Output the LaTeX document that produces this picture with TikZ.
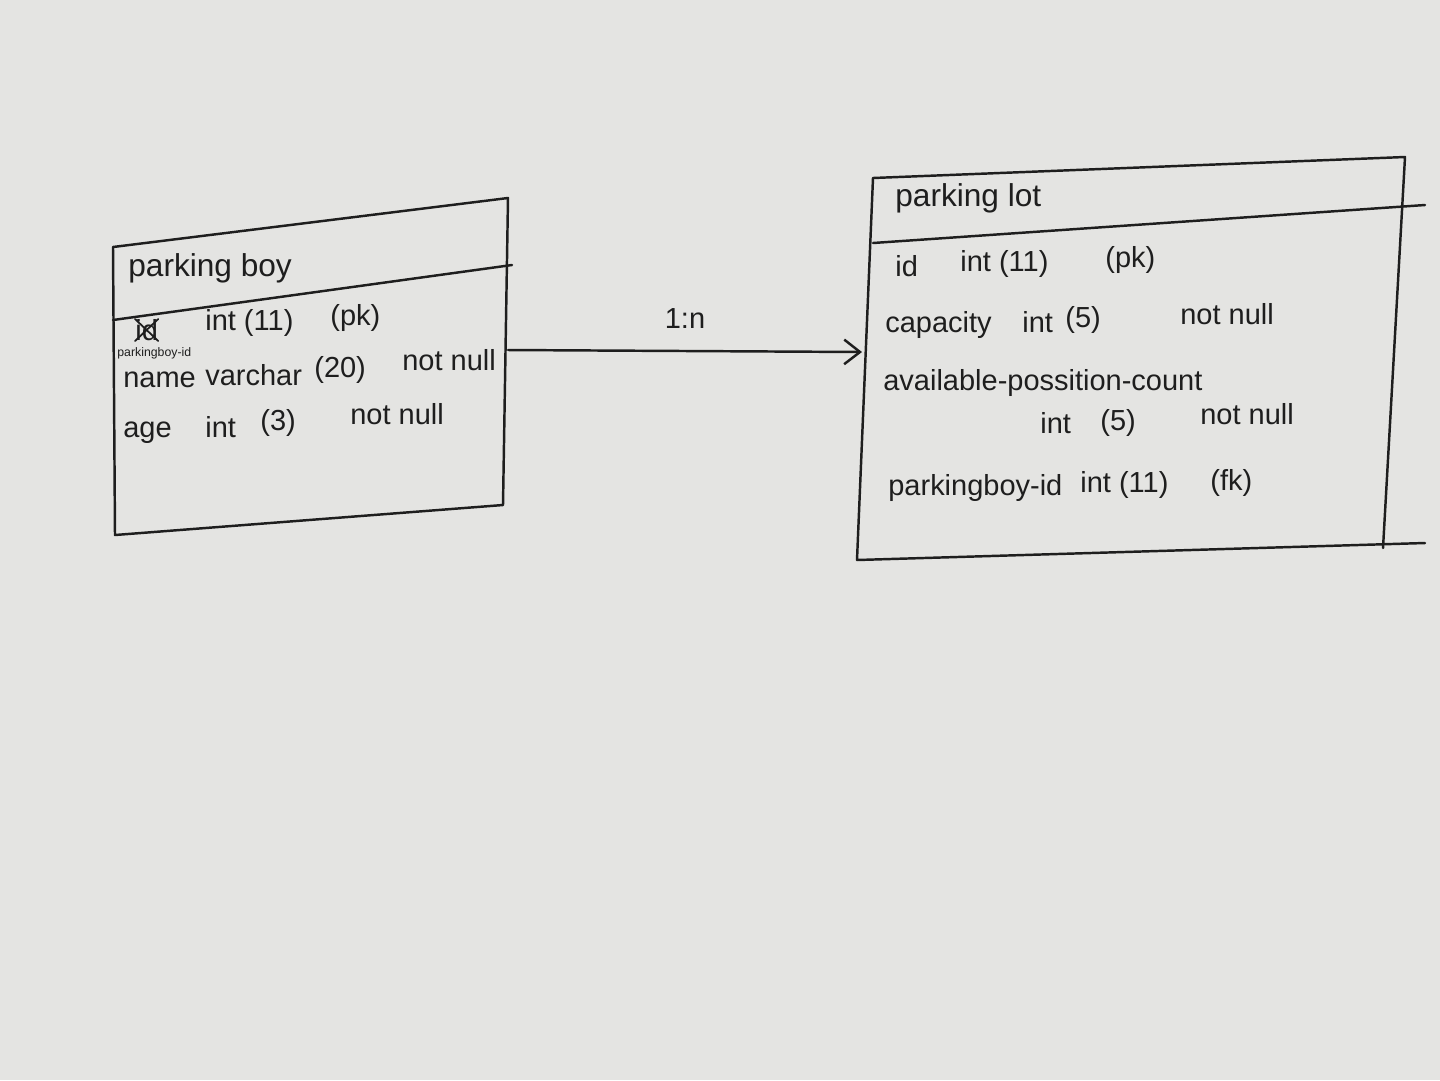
\documentclass[tikz,border=0pt]{standalone}
\usepackage{fontspec}
\setmainfont{Liberation Sans}
\usetikzlibrary{arrows.meta}
\definecolor{paper}{HTML}{E4E4E2}
\definecolor{ink}{HTML}{1E1E1E}
\begin{document}
\begin{tikzpicture}[x=0.02cm,y=-0.02cm,
  pen/.style={draw=ink,line width=1.4pt,line cap=round,line join=round},
  txt/.style={anchor=west,inner sep=0pt,text=ink,font=\fontsize{16.5}{18}\selectfont},
  ttl/.style={anchor=west,inner sep=0pt,text=ink,font=\fontsize{18}{20}\selectfont},
  tiny/.style={anchor=west,inner sep=0pt,text=ink,font=\fontsize{7}{8}\selectfont}]
\fill[paper] (0,0) rectangle (1440,1080);
\useasboundingbox (0,0) rectangle (1440,1080);
% ---- parking boy box
\coordinate (a1) at (113,247);
\coordinate (a2) at (508,198);
\coordinate (a3) at (503,505);
\coordinate (a4) at (115,535);
\coordinate (ad1) at (113,320);
\coordinate (ad2) at (512,265);
\draw[pen] (a1) -- (a2) -- (a3) -- (a4) -- cycle;
\draw[pen] (ad1) -- (ad2);
\node[ttl] (pbtitle) at (128,268) {parking boy};
\node[txt] (pbid) at (135,330) {id};
\draw[pen,line width=1pt] (pbid.south west) -- (pbid.north east);
\draw[pen,line width=1pt] (pbid.north west) -- (pbid.south east);
\node[tiny] (pbidnew) at (117,353) {parkingboy-id};
\node[txt] (pb1a) at (205,323) {int (11)};
\node[txt] (pb1b) at (330,318) {(pk)};
\node[txt] (pb2a) at (123,380) {name};
\node[txt] (pb2b) at (205,375) {varchar};
\node[txt] (pb2c) at (314,370) {(20)};
\node[txt] (pb2d) at (402,360) {not null};
\node[txt] (pb3a) at (123,433) {age};
\node[txt] (pb3b) at (205,427) {int};
\node[txt] (pb3c) at (260,423) {(3)};
\node[txt] (pb3d) at (350,414) {not null};
% ---- parking lot box
\coordinate (b1) at (873,178);
\coordinate (b2) at (1405,157);
\coordinate (b3) at (1383,548);
\coordinate (b4) at (857,560);
\coordinate (bd1) at (873,243);
\coordinate (bd2) at (1425,205);
\coordinate (bb3) at (1425,543);
\draw[pen] (b1) -- (b2) -- (b3);
\draw[pen] (b4) -- (bb3);
\draw[pen] (b1) -- (b4);
\draw[pen] (bd1) -- (bd2);
\node[ttl] (pltitle) at (895,198) {parking lot};
\node[txt] (pl1a) at (895,266) {id};
\node[txt] (pl1b) at (960,264) {int (11)};
\node[txt] (pl1c) at (1105,260) {(pk)};
\node[txt] (pl2a) at (885,325) {capacity};
\node[txt] (pl2b) at (1022,322) {int};
\node[txt] (pl2c) at (1065,320) {(5)};
\node[txt] (pl2d) at (1180,314) {not null};
\node[txt] (pl3) at (883,383) {available-possition-count};
\node[txt] (pl4a) at (1040,423) {int};
\node[txt] (pl4b) at (1100,423) {(5)};
\node[txt] (pl4c) at (1200,414) {not null};
\node[txt] (pl5a) at (888,488) {parkingboy-id};
\node[txt] (pl5b) at (1080,485) {int (11)};
\node[txt] (pl5c) at (1210,483) {(fk)};
% ---- relation
\coordinate (rs) at (508,350);
\coordinate (re) at (862,352);
\draw[pen,-{Straight Barb[length=9pt,width=14pt]}] (rs) -- node[above=9pt,text=ink,font=\fontsize{16.5}{18}\selectfont] (card) {1:n} (re);
\end{tikzpicture}
\end{document}
